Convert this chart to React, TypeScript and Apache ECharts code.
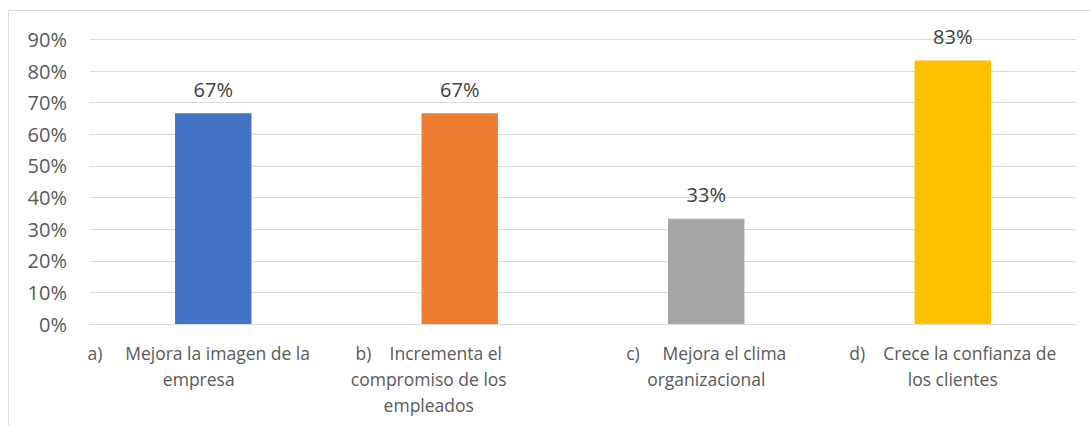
import React, { useEffect, useRef } from "react";
import * as echarts from "echarts";

const categories = [
  "a)\u00a0\u00a0\u00a0\u00a0\u00a0Mejora la imagen de la\nempresa",
  "b)\u00a0\u00a0\u00a0\u00a0Incrementa el\ncompromiso de los\nempleados",
  "c)\u00a0\u00a0\u00a0\u00a0\u00a0Mejora el clima\norganizacional",
  "d)\u00a0\u00a0\u00a0\u00a0Crece la confianza de\nlos clientes",
];
const values = [0.6667, 0.6667, 0.3333, 0.8333];
const barColors = ["#4472C4", "#ED7D31", "#A5A5A5", "#FFC000"];
const labelStyleNames = ["a", "b", "c", "d"];

const FONT = "'Open Sans', 'Noto Sans', sans-serif";

export default function App() {
  const ref = useRef<HTMLDivElement>(null);
  useEffect(() => {
    if (!ref.current) return;
    const chart = echarts.init(ref.current, null, { renderer: "svg" });
    const catRich = (padRight: number) => ({
      fontSize: 17.5,
      fontFamily: FONT,
      color: "#595959",
      lineHeight: 26,
      padding: [0, padRight, 0, 0],
    });
    chart.setOption({
      animation: false,
      backgroundColor: "#ffffff",
      textStyle: { fontFamily: FONT },
      grid: { left: 90, right: 14, top: 39.5, bottom: 102, containLabel: false },
      graphic: [
        {
          type: "rect",
          shape: { x: 8.5, y: 10.5, width: 1200, height: 600 },
          style: { fill: "none", stroke: "#D9D9D9", lineWidth: 1 },
          silent: true,
        },
      ],
      xAxis: {
        type: "category",
        data: categories,
        axisLine: { show: true, lineStyle: { color: "#D9D9D9", width: 1 } },
        axisTick: { show: false },
        axisLabel: {
          interval: 0,
          margin: 16,
          formatter: (v: string, i: number) =>
            v
              .split("\n")
              .map((l) => `{${labelStyleNames[i]}|${l}}`)
              .join("\n"),
          rich: {
            a: catRich(29),
            b: catRich(62),
            c: catRich(0),
            d: catRich(0),
          },
        },
      },
      yAxis: {
        type: "value",
        min: 0,
        max: 0.9,
        interval: 0.1,
        axisLine: { show: false },
        axisTick: { show: false },
        splitLine: { lineStyle: { color: "#D9D9D9", width: 1 } },
        axisLabel: {
          margin: 23,
          fontSize: 20,
          color: "#595959",
          fontFamily: FONT,
          formatter: (v: number) => `${Math.round(v * 100)}%`,
        },
      },
      series: [
        {
          type: "bar",
          data: values.map((v, i) => ({ value: v, itemStyle: { color: barColors[i] } })),
          barWidth: "31%",
          label: {
            show: true,
            position: "top",
            distance: 14,
            fontSize: 20,
            lineHeight: 20,
            color: "#404040",
            fontFamily: FONT,
            formatter: (p: any) => `${Math.round(p.value * 100)}%`,
          },
        },
      ],
    });
    return () => chart.dispose();
  }, []);
  return (
    <div
      ref={ref}
      style={{ position: "absolute", left: 0, top: 0, width: 1090, height: 426 }}
    />
  );
}
